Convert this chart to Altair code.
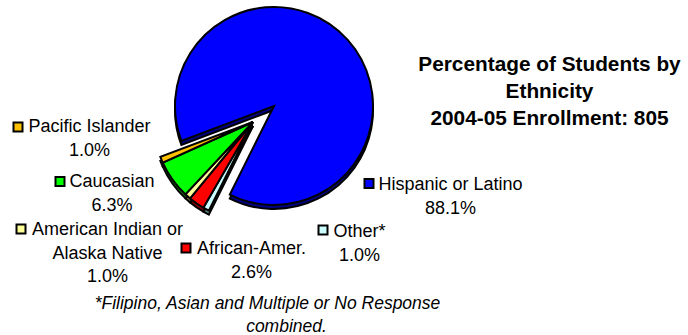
import math

import altair as alt
import pandas as pd

# Enrollment shares by ethnicity, 2004-05 (805 students)
categories = [
    "Other*",
    "African-Amer.",
    "American Indian or Alaska Native",
    "Caucasian",
    "Pacific Islander",
    "Hispanic or Latino",
]
percents = [1.0, 2.6, 1.0, 6.3, 1.0, 88.1]
label_lines = [
    ["Other*"],
    ["African-Amer."],
    ["American Indian or", "Alaska Native"],
    ["Caucasian"],
    ["Pacific Islander"],
    ["Hispanic or Latino"],
]
title_lines = ["Percentage of Students by", "Ethnicity", "2004-05 Enrollment: 805"]
footnote_lines = ["*Filipino, Asian and Multiple or No Response", "combined."]

# Styling: face colours and darker side-wall colours for the 3-D look
face_colors = ["#CCFFFF", "#FF0000", "#FFFF99", "#00FF00", "#FFC000", "#0000FF"]
side_colors = ["#5E8080", "#800000", "#80804C", "#008000", "#806000", "#000080"]
exploded = [True, True, True, True, True, False]

# Layout (pixels)
CX, CY, R = 274, 106, 99
EXPLODE_DX, EXPLODE_DY = -21, 16
DEPTH = 4
START = math.radians(206.5)
FONT = "Liberation Sans"

# label anchor: centre x of text, first baseline, legend-key centre
label_text_pos = [(359.5, 237), (251.5, 254), (107.5, 235), (112, 187), (89.5, 132), (450.5, 190)]
label_key_pos = [(323, 230), (186, 248), (21, 229), (60, 181.5), (18, 127), (369, 183.5)]
footnote_pos = [(267.5, 309), (286.5, 331.5)]

pie_df = pd.DataFrame({
    "category": categories,
    "value": percents,
    "idx": list(range(len(categories))),
    "face": face_colors,
    "side": side_colors,
    "part": ["out" if e else "main" for e in exploded],
})

theta = alt.Theta(
    "value:Q",
    stack=True,
    scale=alt.Scale(range=[START, START + 2 * math.pi]),
)
order = alt.Order("idx:Q")


def slices(color_field, part, dx, dy):
    return (
        alt.Chart(pie_df)
        .mark_arc(radius=R, stroke="black", strokeWidth=2, strokeJoin="miter")
        .encode(
            theta=theta,
            order=order,
            color=alt.Color(f"{color_field}:N", scale=None),
            opacity=alt.condition(f"datum.part == '{part}'", alt.value(1), alt.value(0)),
            x=alt.value(CX + dx),
            y=alt.value(CY + dy),
        )
    )


side_main = slices("side", "main", 0, DEPTH)
side_out = slices("side", "out", EXPLODE_DX, EXPLODE_DY + DEPTH)
face_main = slices("face", "main", 0, 0)
face_out = slices("face", "out", EXPLODE_DX, EXPLODE_DY)

labels_df = pd.DataFrame({
    "label": ["\n".join(lines + [f"{p:.1f}%"]) for lines, p in zip(label_lines, percents)],
    "tx": [p[0] for p in label_text_pos],
    "ty": [p[1] for p in label_text_pos],
    "kx": [p[0] for p in label_key_pos],
    "ky": [p[1] for p in label_key_pos],
    "face": face_colors,
})

label_text = (
    alt.Chart(labels_df)
    .mark_text(font=FONT, fontSize=18, align="center", baseline="alphabetic",
               lineBreak="\n", lineHeight=23.5, color="black")
    .encode(x=alt.X("tx:Q", scale=None), y=alt.Y("ty:Q", scale=None), text="label:N")
)

label_keys = (
    alt.Chart(labels_df)
    .mark_square(size=81, stroke="black", strokeWidth=2, filled=True, opacity=1)
    .encode(
        x=alt.X("kx:Q", scale=None),
        y=alt.Y("ky:Q", scale=None),
        color=alt.Color("face:N", scale=None),
    )
)

title = (
    alt.Chart(pd.DataFrame({"t": ["\n".join(title_lines)]}))
    .mark_text(font=FONT, fontSize=20.8, fontWeight="bold", align="center",
               baseline="alphabetic", lineBreak="\n", lineHeight=27, color="black")
    .encode(x=alt.value(549.5), y=alt.value(70.5), text="t:N")
)

footnote = (
    alt.Chart(pd.DataFrame({
        "t": footnote_lines,
        "fx": [p[0] for p in footnote_pos],
        "fy": [p[1] for p in footnote_pos],
    }))
    .mark_text(font=FONT, fontSize=17.5, fontStyle="italic", align="center",
               baseline="alphabetic", color="black")
    .encode(x=alt.X("fx:Q", scale=None), y=alt.Y("fy:Q", scale=None), text="t:N")
)

chart = (
    alt.layer(side_main, side_out, face_main, face_out, label_keys, label_text, title, footnote)
    .properties(width=688, height=335, padding=0, autosize="none", background="white")
    .configure_view(stroke=None)
)

chart.save("out.html", embed_options={"renderer": "svg", "actions": False})
